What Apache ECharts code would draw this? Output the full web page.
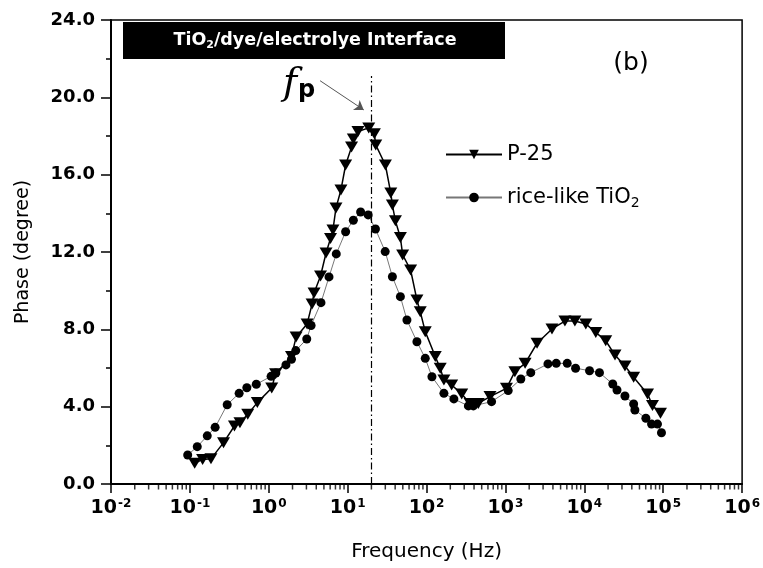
<!DOCTYPE html>
<html>
<head>
<meta charset="utf-8">
<script src="https://cdn.jsdelivr.net/npm/echarts@6/dist/echarts.min.js"></script>
<style>
  html, body { margin: 0; padding: 0; background: #fff; }
  #chart { width: 763px; height: 568px; }
</style>
</head>
<body>
<div id="chart"></div>
<script>
// P-25 (triangles)
const freqP25 = [0.115, 0.145, 0.185, 0.267, 0.367, 0.431, 0.541, 0.716, 1.09, 1.22, 1.94, 2.22, 3.06, 3.54, 3.75, 4.53, 5.32, 6.06, 6.51, 7.11, 8.22, 9.42, 11.2, 11.8, 13.5, 18.5, 21.8, 22.7, 30.1, 35.2, 36.9, 40.3, 46.6, 49.8, 62.8, 75.5, 83.2, 96.3, 129, 149, 166, 208, 279, 356, 453, 637, 1030, 1316, 1775, 2516, 3890, 5675, 7590, 10440, 13970, 18670, 24480, 32740, 42170, 63240, 73110, 92310]
const phaseP25 = [1.07, 1.27, 1.30, 2.14, 3.00, 3.17, 3.61, 4.21, 4.97, 5.70, 6.60, 7.60, 8.28, 9.31, 9.88, 10.76, 11.95, 12.70, 13.14, 14.28, 15.21, 16.50, 17.43, 17.85, 18.23, 18.42, 18.11, 17.54, 16.50, 15.05, 14.43, 13.61, 12.75, 11.85, 11.07, 9.52, 8.91, 7.88, 6.59, 5.99, 5.38, 5.12, 4.66, 4.17, 4.17, 4.52, 4.95, 5.81, 6.24, 7.28, 8.02, 8.43, 8.43, 8.28, 7.84, 7.41, 6.67, 6.10, 5.52, 4.66, 4.06, 3.66]
// rice-like TiO2 (circles)
const freqRice = [0.0938, 0.124, 0.166, 0.209, 0.297, 0.421, 0.527, 0.695, 1.07, 1.23, 1.65, 1.94, 2.20, 3.03, 3.44, 4.59, 5.80, 7.17, 9.42, 11.8, 14.6, 18.2, 22.5, 29.9, 36.9, 46.6, 56.4, 75.5, 96.3, 117, 166, 222, 339, 392, 667, 1084, 1567, 2094, 3459, 4406, 6067, 7745, 11640, 15560, 22910, 25940, 32740, 42170, 43750, 60260, 71120, 84590, 95060]
const phaseRice = [1.50, 1.93, 2.49, 2.93, 4.10, 4.69, 4.98, 5.16, 5.57, 5.74, 6.16, 6.45, 6.90, 7.50, 8.20, 9.38, 10.71, 11.90, 13.05, 13.64, 14.07, 13.92, 13.19, 12.02, 10.72, 9.69, 8.48, 7.36, 6.50, 5.55, 4.69, 4.40, 4.04, 4.04, 4.26, 4.83, 5.43, 5.76, 6.21, 6.24, 6.24, 5.99, 5.86, 5.76, 5.17, 4.86, 4.55, 4.14, 3.83, 3.40, 3.10, 3.10, 2.65]

const seriesNames = ['P-25', 'rice-like TiO2']
const xDecades = [-2, -1, 0, 1, 2, 3, 4, 5, 6]
const yTicks = [0, 4, 8, 12, 16, 20, 24]
// peak frequency marker and arrow (data coords)
const fPeak = 20
const arrowFrom = [4.47, 20.86]
const arrowTo = [16.0, 19.35]

const font = 'DejaVu Sans'

// log minor ticks 2..9 per decade
const minorTicks = []
for (let d = xDecades[0]; d < xDecades[xDecades.length - 1]; d++) {
  for (let k = 2; k <= 9; k++) minorTicks.push([k * Math.pow(10, d), 0])
}

const chart = echarts.init(document.getElementById('chart'))

const option = {
  animation: false,
  grid: {
    left: 111, top: 20, right: 18, bottom: 84,
    show: true, borderColor: '#000', borderWidth: 1.5,
  },
  legend: {
    data: seriesNames,
    orient: 'vertical',
    left: 440, top: 139,
    itemGap: 22,
    itemWidth: 56, itemHeight: 12,
    textStyle: {
      fontFamily: font, fontSize: 21, color: '#000',
      rich: {
        sub: { fontFamily: font, fontSize: 14, verticalAlign: 'top', padding: [12, 0, 0, 0] },
      },
    },
    formatter: name => (name === 'rice-like TiO2' ? 'rice-like TiO{sub|2}' : name),
  },
  xAxis: {
    type: 'log',
    logBase: 10,
    min: Math.pow(10, xDecades[0]),
    max: Math.pow(10, xDecades[xDecades.length - 1]),
    splitNumber: 8,
    name: 'Frequency (Hz)',
    nameLocation: 'middle',
    nameGap: 58,
    nameTextStyle: { fontFamily: font, fontSize: 20, color: '#000' },
    axisLine: { lineStyle: { color: '#000', width: 2 } },
    axisTick: { show: true, inside: false, length: 9, lineStyle: { color: '#000', width: 1.5 } },
    splitLine: { show: false },
    axisLabel: {
      margin: 14,
      color: '#000',
      formatter: v => '{b|10}{s|' + Math.round(Math.log10(v)) + '}',
      rich: {
        b: { fontFamily: font, fontWeight: 'bold', fontSize: 19, color: '#000' },
        s: { fontFamily: font, fontWeight: 'bold', fontSize: 12, color: '#000', verticalAlign: 'top', padding: [0, 0, 9, 1] },
      },
    },
  },
  yAxis: {
    type: 'value',
    min: yTicks[0],
    max: yTicks[yTicks.length - 1],
    interval: 4,
    name: 'Phase (degree)',
    nameLocation: 'middle',
    nameGap: 78,
    nameTextStyle: { fontFamily: font, fontSize: 19, color: '#000' },
    axisLine: { show: true, lineStyle: { color: '#000', width: 2 } },
    axisTick: { show: true, inside: false, length: 10, lineStyle: { color: '#000', width: 1.5 } },
    minorTick: { show: true, splitNumber: 2, length: 5, lineStyle: { color: '#000', width: 1.5 } },
    splitLine: { show: false },
    axisLabel: {
      margin: 16,
      fontFamily: font, fontWeight: 'bold', fontSize: 18, color: '#000',
      formatter: v => v.toFixed(1),
    },
  },
  series: [
    {
      name: seriesNames[0],
      type: 'line',
      data: freqP25.map((f, i) => [f, phaseP25[i]]),
      symbol: 'triangle',
      symbolRotate: 180,
      symbolSize: [13, 11],
      itemStyle: { color: '#000' },
      lineStyle: { color: '#000', width: 1.5 },
      z: 3,
      markLine: {
        silent: true,
        symbol: 'none',
        label: { show: false },
        lineStyle: { color: '#000', width: 1.2, type: [7, 3, 1.5, 3] },
        data: [[{ coord: [fPeak, 0] }, { coord: [fPeak, 21.1] }]],
      },
    },
    {
      name: seriesNames[1],
      type: 'line',
      data: freqRice.map((f, i) => [f, phaseRice[i]]),
      symbol: 'circle',
      symbolSize: 9,
      itemStyle: { color: '#000' },
      lineStyle: { color: '#777', width: 1 },
      z: 2,
      markLine: {
        silent: true,
        symbol: ['none', 'arrow'],
        symbolSize: 9,
        label: { show: false },
        lineStyle: { color: '#555', width: 1, type: 'solid' },
        data: [[{ coord: arrowFrom }, { coord: arrowTo }]],
      },
    },
    {
      name: 'minor',
      type: 'scatter',
      data: minorTicks,
      symbol: 'rect',
      symbolSize: [1.5, 5],
      symbolOffset: [0, 3],
      itemStyle: { color: '#000' },
      clip: false,
      silent: true,
      z: 5,
    },
  ],
  graphic: [
    {
      type: 'rect',
      shape: { x: 123, y: 22, width: 382, height: 37 },
      style: { fill: '#000' },
    },
    {
      type: 'text',
      x: 315, y: 40,
      style: {
        text: 'TiO{sub|2}/dye/electrolye Interface',
        fill: '#fff',
        font: 'bold 17.5px "DejaVu Sans"',
        align: 'center', verticalAlign: 'middle',
        rich: {
          sub: { fill: '#fff', font: 'bold 11px "DejaVu Sans"', verticalAlign: 'top', padding: [11, 0, 0, 0] },
        },
      },
    },
    {
      type: 'text',
      x: 631, y: 63,
      style: { text: '(b)', fill: '#000', font: '25px "DejaVu Sans"', align: 'center', verticalAlign: 'middle' },
    },
    {
      type: 'text',
      x: 283, y: 84,
      style: {
        text: '{f|f}{p|p}',
        align: 'left', verticalAlign: 'middle',
        rich: {
          f: { fill: '#000', font: 'italic 38px "DejaVu Serif"' },
          p: { fill: '#000', font: 'bold 24px "DejaVu Sans"', verticalAlign: 'bottom', padding: [0, 0, 0, 1] },
        },
      },
    },
  ],
}

chart.setOption(option)
window.addEventListener('resize', () => chart.resize())
</script>
</body>
</html>
